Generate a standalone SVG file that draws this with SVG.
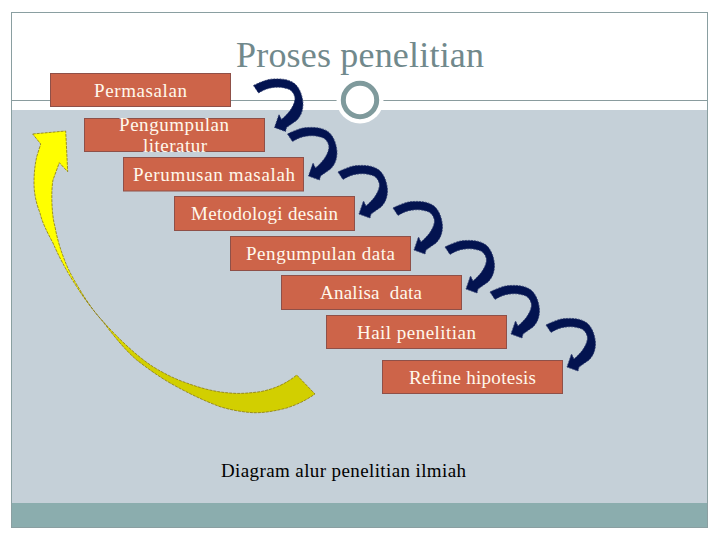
<svg xmlns="http://www.w3.org/2000/svg" width="720" height="540" viewBox="0 0 720 540">
<style>
text{font-family:"Liberation Serif","Times New Roman",serif}
.box rect{fill:#cd6449;stroke:#8f5048;stroke-width:1}
.box text{fill:#fff8ec;font-size:19px}
.arc{fill:#031350;stroke:#2c3a6c;stroke-width:.8;stroke-dasharray:2 1}
</style>
<defs>
<linearGradient id="y" gradientUnits="userSpaceOnUse" x1="75" y1="270" x2="140" y2="355"><stop offset="0" stop-color="#ffff00"/><stop offset="1" stop-color="#d2cf00"/></linearGradient>
<path id="a" d="M0 0C6-3 14-6.500 20-6.500C28-7 36-6 41-2C46 2 49 10 49.500 18C49.500 26 47 31 43 35L33 42L32 46L21 42L25.500 29L28 34C34 29 41 21 41.500 13C41 8 38 4 33 3C28 1.500 24 1.500 20 2C14 2.500 9 5 5 7.500Z"/>
</defs>
<rect width="720" height="540" fill="#fff"/>
<rect x="12" y="110" width="695" height="393" fill="#c5d0d8"/>
<rect x="12" y="503" width="695.500" height="24.500" fill="#8badae"/>
<rect x="11.500" y="12.500" width="696" height="515" fill="none" stroke="#8a9fa1" stroke-width="1"/>
<line x1="12" y1="100.500" x2="707" y2="100.500" stroke="#8a9c9e" stroke-width="1"/>
<circle cx="360" cy="100" r="23.500" fill="#fff"/>
<circle cx="360" cy="100" r="16.700" fill="#fff" stroke="#7f9a9c" stroke-width="5"/>
<text x="236" y="67" font-size="36" fill="#71898c" textLength="248">Proses penelitian</text>
<g id="connectors">
<path id="back" d="M32.700 134L65.700 131L67.700 171.700L59.300 162.700L53 180C51 190 51.500 215 55 226.700C57 238 60 248 63.300 256.700C68 270 74 280 80 290C88 303 95 313 101.700 320C115 335 135 355 153 366.700C165 374 175 379 186.700 383C200 388 215 392 230 393C240 394 250 393 260 391.700C275 389 287 383 296.700 375L315 394C305 401 296 405 286.700 408C275 411 264 413 253 412.700C242 412 231 410 220 406.700C202 400 186 392 170 383C158 376 147 368 136.700 360C125 350 113 335 103 321.700C93 310 85 300 76.700 286.700C67 272 59 257 53 243C47 232 42 222 40 213C36 203 34 193 34 183C34 172 35 165 36.700 156.700L40.700 144Z" fill="url(#y)" stroke="#8a7a10" stroke-width=".8" stroke-dasharray="3 1"/>
<use href="#a" class="arc" x="253.500" y="85.500"/>
<use href="#a" class="arc" x="287.500" y="134"/>
<use href="#a" class="arc" x="338" y="172"/>
<use href="#a" class="arc" x="393" y="208"/>
<use href="#a" class="arc" x="445" y="247"/>
<use href="#a" class="arc" x="490" y="292"/>
<use href="#a" class="arc" x="546" y="325"/>
</g>
<g id="n1" class="box"><rect x="50.500" y="73.500" width="180" height="33"/><text x="94" y="97" textLength="93">Permasalan</text></g>
<g id="n2" class="box"><rect x="84.500" y="118.500" width="180" height="33"/><text x="119" y="131" textLength="110">Pengumpulan</text><text x="143" y="152" textLength="64">literatur</text></g>
<g id="n3" class="box"><rect x="123.500" y="157.500" width="180" height="33.500"/><text x="133" y="181" textLength="162">Perumusan masalah</text></g>
<g id="n4" class="box"><rect x="174.500" y="196.500" width="180" height="34"/><text x="191" y="220" textLength="147">Metodologi desain</text></g>
<g id="n5" class="box"><rect x="230.500" y="236.500" width="180" height="34"/><text x="246" y="260" textLength="149">Pengumpulan data</text></g>
<g id="n6" class="box"><rect x="281.500" y="275.500" width="180" height="34"/><text x="320" y="299" textLength="102" xml:space="preserve">Analisa  data</text></g>
<g id="n7" class="box"><rect x="326.500" y="315.500" width="180" height="33"/><text x="357" y="339" textLength="119">Hail penelitian</text></g>
<g id="n8" class="box"><rect x="382.500" y="360.500" width="180" height="33"/><text x="409" y="384" textLength="127">Refine hipotesis</text></g>
<text x="221" y="477" font-size="19" fill="#000" textLength="245">Diagram alur penelitian ilmiah</text>
</svg>
